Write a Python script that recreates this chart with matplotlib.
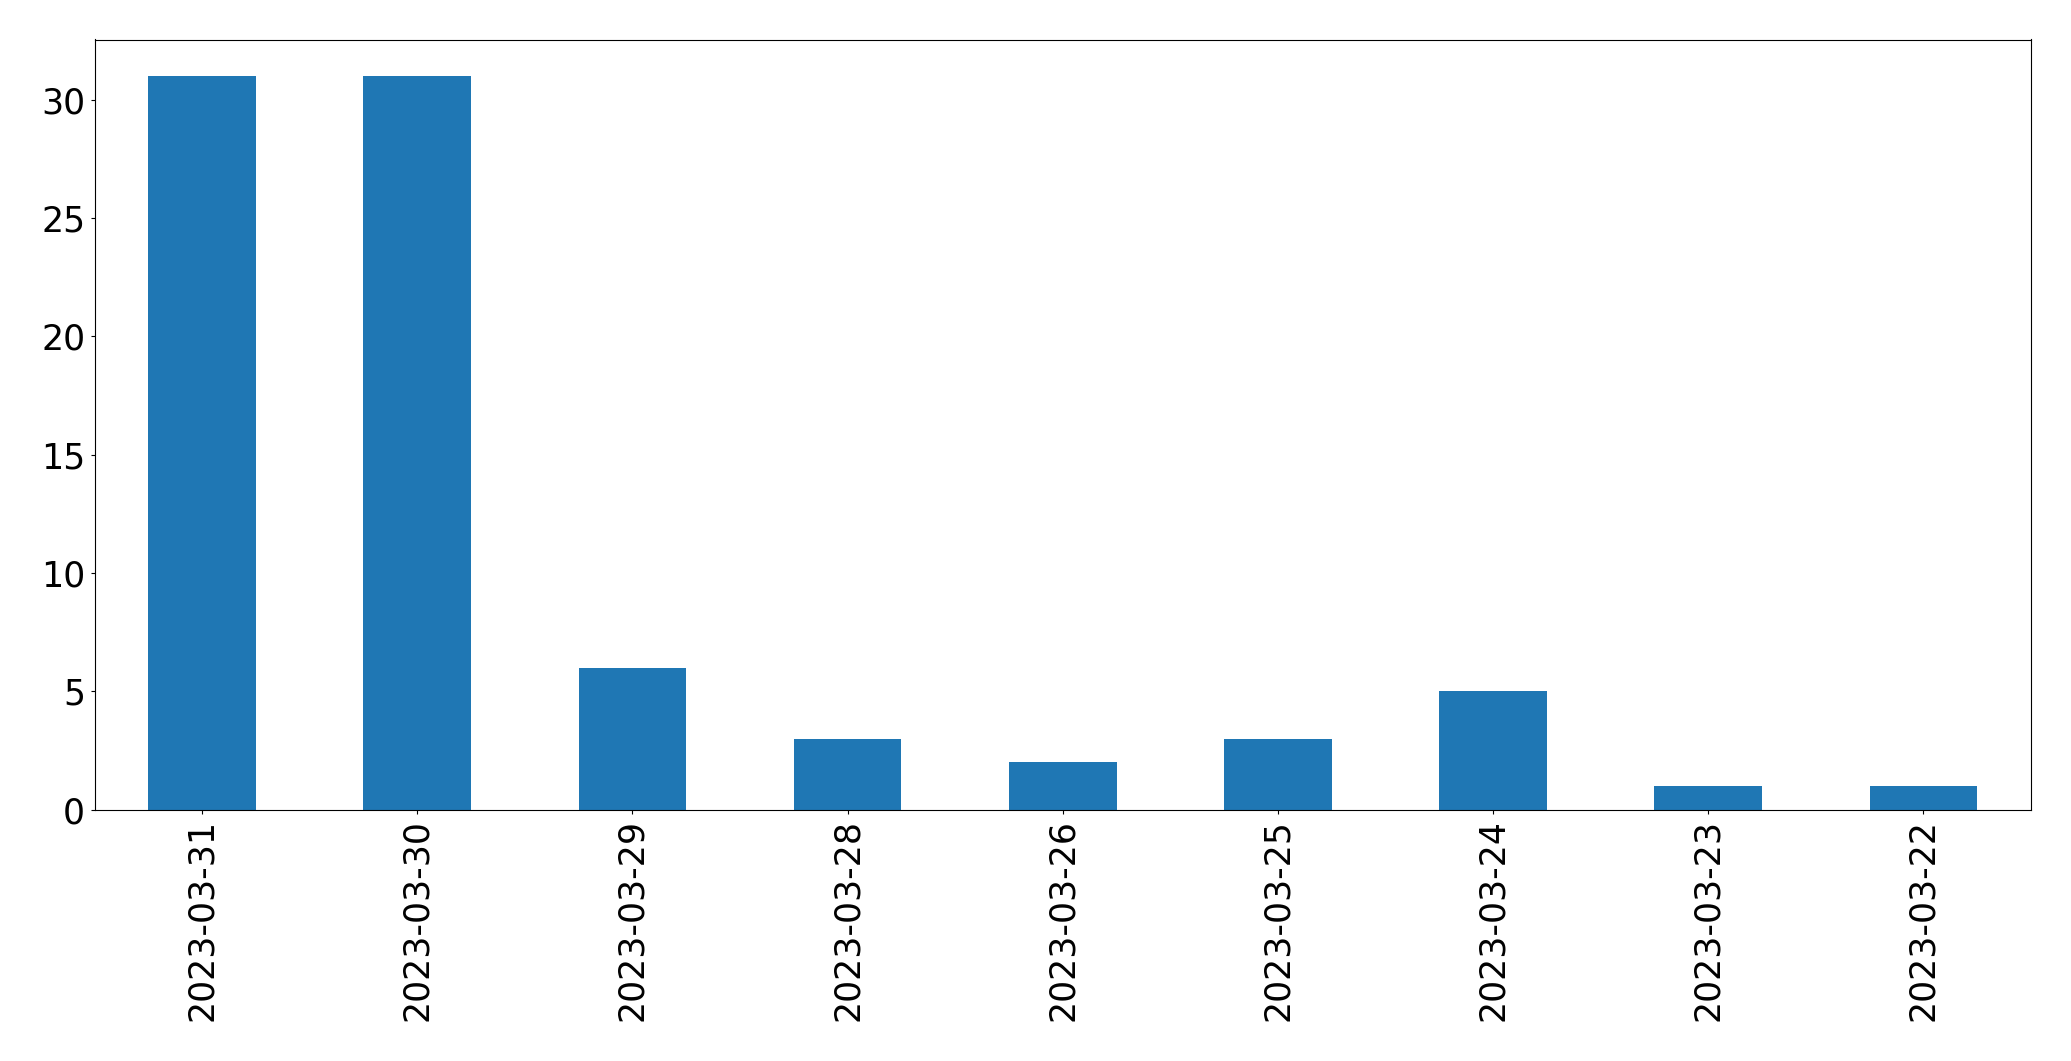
import matplotlib
matplotlib.use("Agg")
import matplotlib.pyplot as plt

dates = ["2023-03-31", "2023-03-30", "2023-03-29", "2023-03-28", "2023-03-26",
         "2023-03-25", "2023-03-24", "2023-03-23", "2023-03-22"]
counts = [31, 31, 6, 3, 2, 3, 5, 1, 1]

fig = plt.figure(figsize=(20.71, 10.61), dpi=100)
ax = fig.add_axes([94.5 / 2071, 1 - 809.5 / 1061, (2031 - 94.5) / 2071, (809.5 - 39.5) / 1061])
x = list(range(len(dates)))
ax.bar(x, counts, width=0.5, color="#1f77b4")
ax.set_xlim(-0.5, len(dates) - 0.5)
ax.set_ylim(0, 32.55)
ax.set_xticks(x)
ax.set_xticklabels(dates, rotation=90)
ax.set_yticks([0, 5, 10, 15, 20, 25, 30])
ax.tick_params(labelsize=25, length=3.2)
fig.savefig("out.png", dpi=100)
